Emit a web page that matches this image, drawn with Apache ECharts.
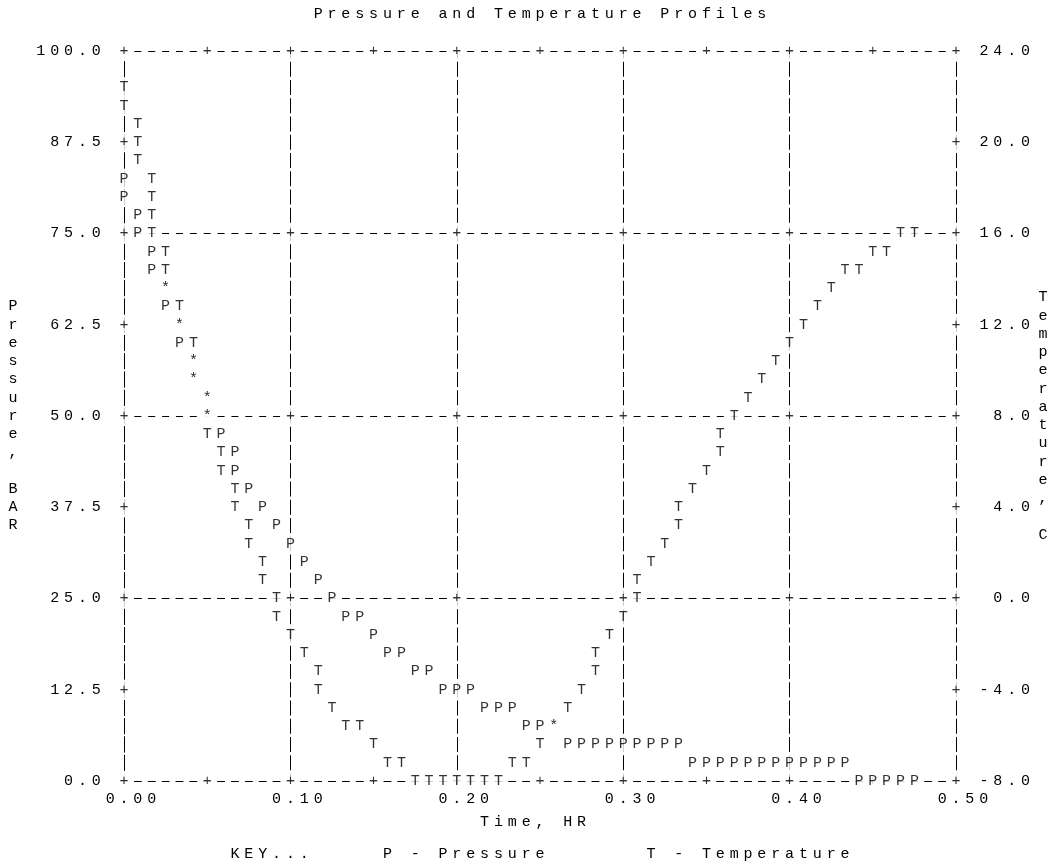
<!DOCTYPE html>
<html><head><meta charset="utf-8">
<script src="https://cdn.jsdelivr.net/npm/echarts@6/dist/echarts.min.js"></script>
<style>html,body{margin:0;padding:0;background:#fff}#chart{width:1060px;height:863px}</style>
</head><body><div id="chart"></div>
<script>
// ---------------- data ----------------
const pressureTime = [0,0,0.0083,0.0083,0.0167,0.0167,0.025,0.025,0.0333,0.0333,0.0417,0.0417,0.05,0.05,
  0.0583,0.0667,0.0667,0.075,0.0833,0.0917,0.1,0.1083,0.1167,0.125,0.1333,0.1417,0.15,0.1583,0.1667,0.175,
  0.1833,0.1917,0.2,0.2083,0.2167,0.225,0.2333,0.2417,0.25,0.2583,
  0.2667,0.275,0.2833,0.2917,0.3,0.3083,0.3167,0.325,0.3333,
  0.3417,0.35,0.3583,0.3667,0.375,0.3833,0.3917,0.4,0.4083,0.4167,0.425,0.4333,
  0.4417,0.45,0.4583,0.4667,0.475];
const pressureValue = [82.5,80,77.5,75,72.5,70,67.5,65,62.5,60,57.5,55,52.5,50,
  47.5,45,42.5,40,37.5,35,32.5,30,27.5,25,22.5,22.5,20,17.5,17.5,15,
  15,12.5,12.5,12.5,10,10,10,7.5,7.5,7.5,
  5,5,5,5,5,5,5,5,5,
  2.5,2.5,2.5,2.5,2.5,2.5,2.5,2.5,2.5,2.5,2.5,2.5,
  0,0,0,0,0];
const temperatureTime = [0,0,0.0083,0.0083,0.0083,0.0167,0.0167,0.0167,0.0167,0.025,0.025,0.025,
  0.0333,0.0333,0.0417,0.0417,0.0417,0.05,0.05,0.05,0.0583,0.0583,0.0667,0.0667,0.075,0.075,
  0.0833,0.0833,0.0917,0.0917,0.1,0.1083,0.1167,0.1167,0.125,0.1333,0.1417,0.15,0.1583,0.1667,
  0.175,0.1833,0.1917,0.2,0.2083,0.2167,0.225,
  0.2333,0.2417,0.25,0.2583,0.2667,0.275,0.2833,0.2833,0.2917,0.3,0.3083,0.3083,0.3167,0.325,
  0.3333,0.3333,0.3417,0.35,0.3583,0.3583,0.3667,0.375,0.3833,0.3917,0.4,0.4083,0.4167,0.425,
  0.4333,0.4417,0.45,0.4583,0.4667,0.475];
const temperatureValue = [22.4,21.6,20.8,20.0,19.2,18.4,17.6,16.8,16.0,15.2,14.4,13.6,
  12.8,12.0,11.2,10.4,9.6,8.8,8.0,7.2,6.4,5.6,4.8,4.0,3.2,2.4,
  1.6,0.8,0.0,-0.8,-1.6,-2.4,-3.2,-4.0,-4.8,-5.6,-5.6,-6.4,-7.2,-7.2,
  -8.0,-8.0,-8.0,-8.0,-8.0,-8.0,-8.0,
  -7.2,-7.2,-6.4,-5.6,-4.8,-4.0,-3.2,-2.4,-1.6,-0.8,0.0,0.8,1.6,2.4,
  3.2,4.0,4.8,5.6,6.4,7.2,8.0,8.8,9.6,10.4,11.2,12.0,12.8,13.6,
  14.4,14.4,15.2,15.2,16.0,16.0];
const timeTicks = [0, 0.1, 0.2, 0.3, 0.4, 0.5];
const timeBorderTicks = [0, 0.05, 0.1, 0.15, 0.2, 0.25, 0.3, 0.35, 0.4, 0.45, 0.5];
const pressureTicks = [0, 12.5, 25, 37.5, 50, 62.5, 75, 87.5, 100];
const pressureGrid = [25, 50, 75];
const temperatureTicks = [-8, -4, 0, 4, 8, 12, 16, 20, 24];
const titleText = 'Pressure and Temperature Profiles';
const xName = 'Time, HR';
const yLeftName = 'Pressure, BAR';
const yRightName = 'Temperature, C';
const keyText = 'KEY...     P - Pressure       T - Temperature';

// ---------------- style ----------------
const CW = 832 / 60;     // character cell width
const RH = 730 / 40;     // character cell height
const FONT = 'Liberation Mono';
const FS = 15;
const INK = '#000';
const cellStyle = { width: CW, height: RH, lineHeight: RH, align: 'center', fontFamily: FONT, fontSize: FS, color: INK };
const rich = { c: cellStyle };
function cells(str) { return String(str).split('').map(ch => '{c|' + ch + '}').join(''); }

const hDash = { color: INK, width: 1, type: [7, CW - 7], dashOffset: 3.5 };
const vDash = { color: INK, width: 1, type: [15, RH - 15], dashOffset: 7.5 };

const pMin = pressureTicks[0], pMax = pressureTicks[pressureTicks.length - 1];
const tMin = temperatureTicks[0], tMax = temperatureTicks[temperatureTicks.length - 1];
function pRow(p) { return Math.round((pMax - p) / (pMax - pMin) * 40); }
function tRow(t) { return Math.round((tMax - t) / (tMax - tMin) * 40); }
const pCells = new Set(pressureTime.map((x, i) => x + '|' + pRow(pressureValue[i])));
const tCells = new Set(temperatureTime.map((x, i) => x + '|' + tRow(temperatureValue[i])));

const charLabel = (fmt) => ({
  show: true, position: 'inside', formatter: fmt,
  fontFamily: FONT, fontSize: FS, color: INK,
  backgroundColor: '#fff', width: CW, height: RH, lineHeight: RH,
  align: 'center', verticalAlign: 'middle', padding: 0
});

const plusPts = [];
timeBorderTicks.forEach(t => { plusPts.push([t, pMin], [t, pMax]); });
pressureTicks.forEach(p => { plusPts.push([timeBorderTicks[0], p], [timeBorderTicks[timeBorderTicks.length - 1], p]); });
timeTicks.slice(1, -1).forEach(t => pressureGrid.forEach(p => plusPts.push([t, p])));

const chart = echarts.init(document.getElementById('chart'), null, { renderer: 'canvas' });
chart.setOption({
  animation: false,
  backgroundColor: '#fff',
  title: [
    { text: cells(titleText), left: 540 - titleText.length * CW / 2, top: 14.5 - RH / 2, padding: 0,
      textStyle: { rich: rich, fontFamily: FONT, fontSize: FS, fontWeight: 'normal', color: INK } },
    { text: cells(keyText), left: 124 + 8 * CW - CW / 2, top: 854 - RH / 2, padding: 0,
      textStyle: { rich: rich, fontFamily: FONT, fontSize: FS, fontWeight: 'normal', color: INK } }
  ],
  grid: { left: 124, top: 51, width: 832, height: 730, containLabel: false, outerBoundsMode: 'none' },
  xAxis: [
    { type: 'value', position: 'bottom', min: timeTicks[0], max: timeTicks[timeTicks.length - 1], interval: 0.1,
      name: cells(xName), nameLocation: 'middle', nameGap: 27.4,
      nameTextStyle: { rich: rich, verticalAlign: 'top', lineHeight: RH, padding: [0, CW, 0, 0] },
      axisLine: { show: true, lineStyle: hDash }, axisTick: { show: false },
      axisLabel: { show: true, margin: 9.1, padding: [0, 0, 0, CW], hideOverlap: false,
        showMinLabel: true, showMaxLabel: true,
        formatter: v => cells(v.toFixed(2)), rich: rich },
      splitLine: { show: true, lineStyle: vDash } },
    { type: 'value', position: 'top', min: timeTicks[0], max: timeTicks[timeTicks.length - 1], interval: 0.1,
      axisLine: { show: true, lineStyle: hDash }, axisTick: { show: false },
      axisLabel: { show: false }, splitLine: { show: false } }
  ],
  yAxis: [
    { type: 'value', position: 'left', min: pMin, max: pMax, interval: 12.5,
      name: yLeftName.split('').join('\n'), nameLocation: 'middle', nameRotate: 0, nameGap: 111,
      nameTextStyle: { fontFamily: FONT, fontSize: FS, color: INK, lineHeight: RH, align: 'center', verticalAlign: 'middle' },
      axisLine: { show: true, lineStyle: vDash }, axisTick: { show: false },
      axisLabel: { show: true, margin: 20.8, align: 'right', hideOverlap: false,
        showMinLabel: true, showMaxLabel: true,
        formatter: v => cells(v.toFixed(1)), rich: rich },
      splitLine: { show: false } },
    { type: 'value', position: 'right', min: tMin, max: tMax, interval: 4,
      name: yRightName.split('').join('\n'), nameLocation: 'middle', nameRotate: 0, nameGap: 87,
      nameTextStyle: { fontFamily: FONT, fontSize: FS, color: INK, lineHeight: RH, align: 'center', verticalAlign: 'middle', padding: [0, 0, RH, 0] },
      axisLine: { show: true, lineStyle: vDash }, axisTick: { show: false },
      axisLabel: { show: true, margin: 76.5, align: 'right', hideOverlap: false,
        showMinLabel: true, showMaxLabel: true,
        formatter: v => cells(v.toFixed(1)), rich: rich },
      splitLine: { show: false } },
    { type: 'value', position: 'left', min: pMin, max: pMax, interval: 25,
      axisLine: { show: false }, axisTick: { show: false }, axisLabel: { show: false },
      splitLine: { show: true, lineStyle: hDash } }
  ],
  series: [
    { type: 'scatter', name: 'grid marks', silent: true, z: 3, xAxisIndex: 0, yAxisIndex: 0,
      symbol: 'rect', symbolSize: 1, itemStyle: { color: 'rgba(0,0,0,0)' },
      data: plusPts, label: charLabel('+') },
    { type: 'scatter', name: 'Pressure', silent: true, z: 4, xAxisIndex: 0, yAxisIndex: 0,
      symbol: 'rect', symbolSize: 1, itemStyle: { color: 'rgba(0,0,0,0)' },
      data: pressureTime.map((x, i) => [x, pressureValue[i]]),
      label: charLabel(p => tCells.has(p.value[0] + '|' + pRow(p.value[1])) ? '*' : 'P') },
    { type: 'scatter', name: 'Temperature', silent: true, z: 4, xAxisIndex: 0, yAxisIndex: 1,
      symbol: 'rect', symbolSize: 1, itemStyle: { color: 'rgba(0,0,0,0)' },
      data: temperatureTime.map((x, i) => [x, temperatureValue[i]]),
      label: charLabel(p => pCells.has(p.value[0] + '|' + tRow(p.value[1])) ? '*' : 'T') }
  ]
});
</script>
</body></html>
